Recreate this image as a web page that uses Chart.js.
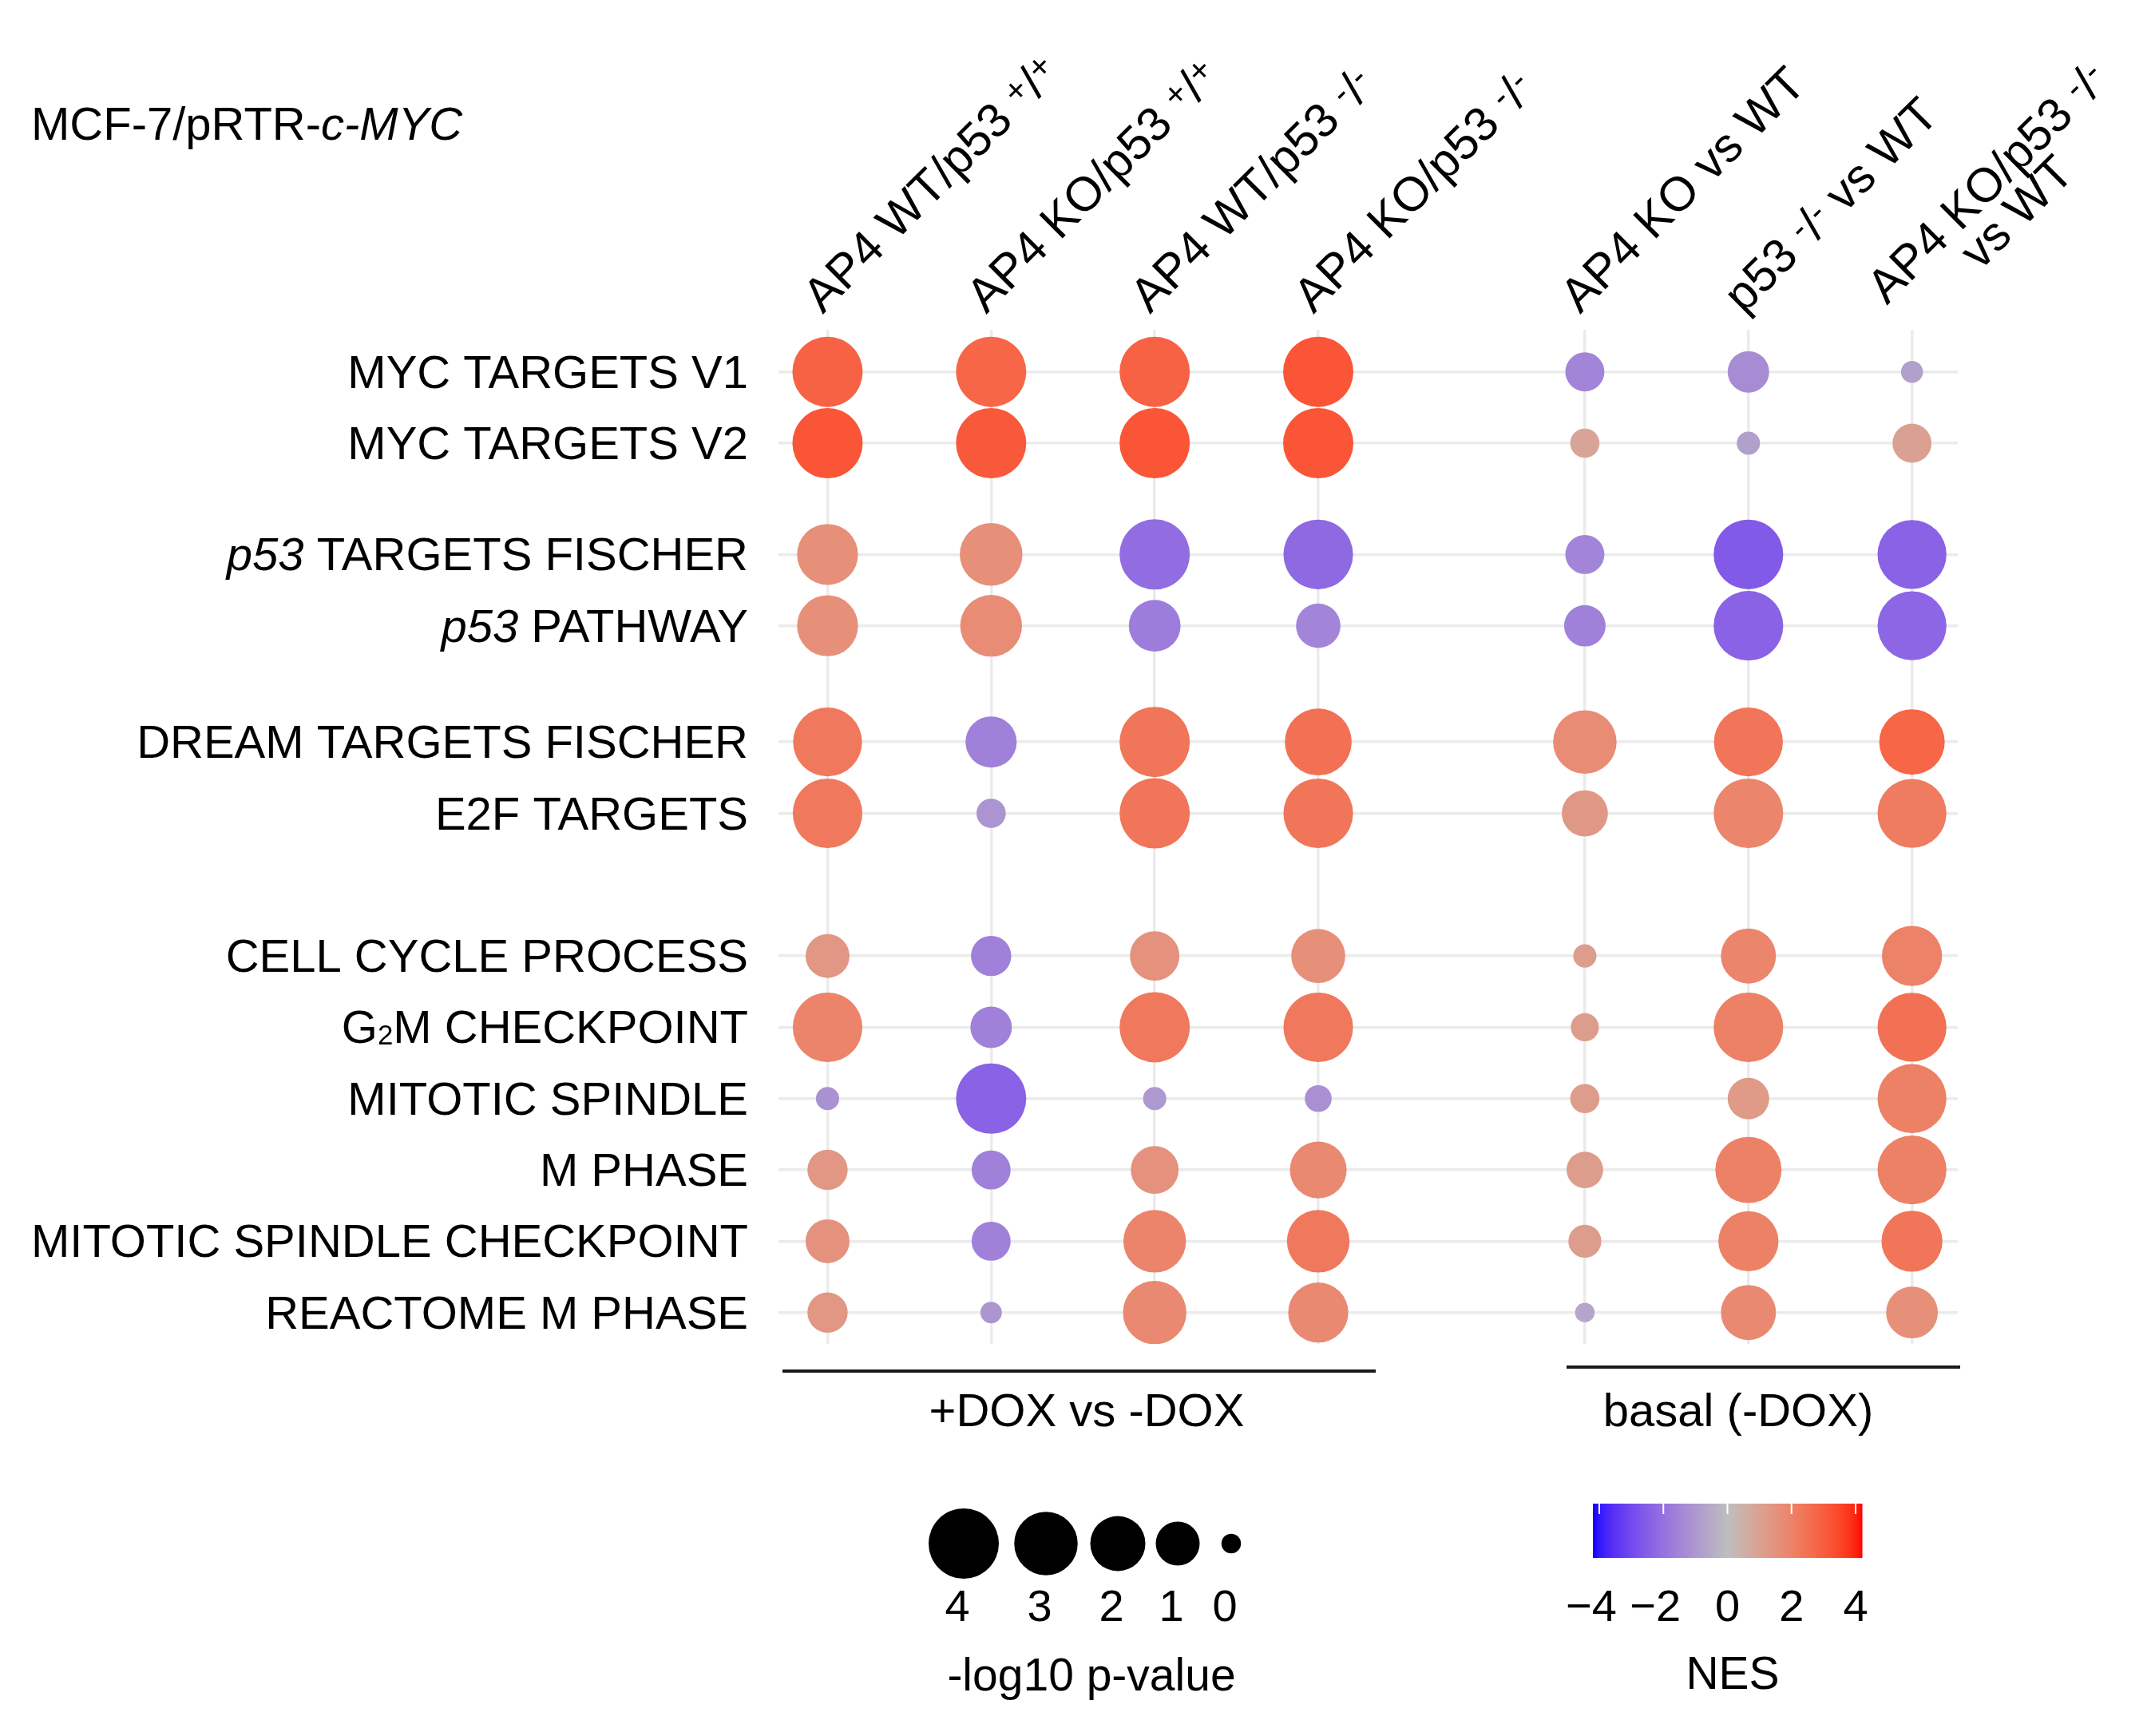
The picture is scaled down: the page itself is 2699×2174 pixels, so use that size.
<!DOCTYPE html>
<html>
<head>
<meta charset="utf-8">
<script src="https://cdn.jsdelivr.net/npm/chart.js@4.4.1/dist/chart.umd.min.js"></script>
<style>
  html, body { margin: 0; padding: 0; background: #fff; }
  canvas { display: block; }
</style>
</head>
<body>
<canvas id="dotChart" width="2699" height="2174"></canvas>
<script>
// gene sets (rows, top to bottom) and comparisons (columns, left to right)
const pathways = ['MYC TARGETS V1', 'MYC TARGETS V2', 'p53 TARGETS FISCHER', 'p53 PATHWAY',
  'DREAM TARGETS FISCHER', 'E2F TARGETS', 'CELL CYCLE PROCESS', 'G2M CHECKPOINT',
  'MITOTIC SPINDLE', 'M PHASE', 'MITOTIC SPINDLE CHECKPOINT', 'REACTOME M PHASE'];
const rowGroup = [0, 0, 1, 1, 2, 2, 3, 3, 3, 3, 3, 3];
const comparisons = ['AP4 WT/p53 +/+', 'AP4 KO/p53 +/+', 'AP4 WT/p53 -/-', 'AP4 KO/p53 -/-',
  'AP4 KO vs WT', 'p53 -/- vs WT', 'AP4 KO/p53 -/-\nvs WT'];
const colGroup = [0, 0, 0, 0, 1, 1, 1];
const groupLabels = ['+DOX vs -DOX', 'basal (-DOX)'];

// NES per row (one value per comparison)
const nes = [
  [2.9, 2.8, 2.9, 3.2, -1.5, -1.3, -0.8],
  [3.2, 3.1, 3.2, 3.2, 0.9, -0.8, 1.0],
  [1.6, 1.6, -2.1, -2.2, -1.5, -2.6, -2.4],
  [1.6, 1.7, -1.7, -1.5, -1.6, -2.4, -2.3],
  [2.3, -1.6, 2.4, 2.5, 1.7, 2.4, 2.8],
  [2.3, -1.1, 2.4, 2.4, 1.3, 1.9, 2.2],
  [1.35, -1.6, 1.5, 1.6, 1.15, 1.9, 2.0],
  [1.95, -1.6, 2.3, 2.3, 1.15, 2.05, 2.5],
  [-1.15, -2.4, -1.0, -1.2, 1.15, 1.25, 2.05],
  [1.35, -1.6, 1.5, 1.8, 1.15, 2.05, 2.05],
  [1.5, -1.6, 1.95, 2.3, 1.15, 2.05, 2.4],
  [1.35, -1.05, 1.8, 1.8, -0.65, 1.8, 1.6]
];

// -log10 p-value per row
const logP = [
  [4.0, 4.0, 4.0, 4.0, 0.8, 0.9, 0.1],
  [4.0, 4.0, 4.0, 4.0, 0.4, 0.15, 0.8],
  [2.7, 2.9, 4.0, 3.9, 0.8, 3.9, 3.8],
  [2.7, 2.8, 1.7, 1.05, 0.9, 3.9, 3.8],
  [3.8, 1.65, 4.0, 3.5, 3.0, 3.8, 3.3],
  [3.9, 0.4, 4.0, 3.9, 1.2, 3.9, 3.8],
  [1.0, 0.85, 1.5, 1.9, 0.15, 2.0, 2.6],
  [3.9, 0.9, 4.0, 3.9, 0.35, 3.9, 3.8],
  [0.15, 4.0, 0.15, 0.3, 0.4, 0.9, 3.8],
  [0.85, 0.8, 1.35, 2.2, 0.7, 3.4, 3.8],
  [1.0, 0.8, 2.9, 2.9, 0.55, 2.6, 2.7],
  [0.85, 0.08, 3.0, 2.6, 0.0, 2.0, 1.7]
];

// legends
const sizeBreaks = [4, 3, 2, 1, 0];
const nesTicks = [-4, -2, 0, 2, 4];

// ---- layout / style constants ----
const FONT = '"Liberation Sans", Arial, sans-serif';
const colGap = 0.63;
const groupShift = [0, 0.56, 1.19, 2.19];
const sizeDomain = [0, 1, 2, 3, 4];
const sizeDiam = [24.5, 55, 69, 79.5, 88];
const nesLimit = 4.2;

const colPos = comparisons.map((c, i) => i + colGap * colGroup[i]);
const rowPos = pathways.map((p, i) => i + groupShift[rowGroup[i]]);

function diameterFor(v) {
  if (v <= sizeDomain[0]) return sizeDiam[0];
  for (let i = 1; i < sizeDomain.length; i++) {
    if (v <= sizeDomain[i]) {
      const t = (v - sizeDomain[i - 1]) / (sizeDomain[i] - sizeDomain[i - 1]);
      return sizeDiam[i - 1] + t * (sizeDiam[i] - sizeDiam[i - 1]);
    }
  }
  return sizeDiam[sizeDiam.length - 1];
}

// Lab colour ramp blue - grey - red
function toLin(c) { c /= 255; return c <= 0.04045 ? c / 12.92 : Math.pow((c + 0.055) / 1.055, 2.4); }
function toSrgb(c) {
  c = c <= 0.0031308 ? 12.92 * c : 1.055 * Math.pow(c, 1 / 2.4) - 0.055;
  return Math.round(Math.max(0, Math.min(1, c)) * 255);
}
function rgbToLab(rgb) {
  const R = toLin(rgb[0]), G = toLin(rgb[1]), B = toLin(rgb[2]);
  const X = (0.4124 * R + 0.3576 * G + 0.1805 * B) / 0.95047;
  const Y = 0.2126 * R + 0.7152 * G + 0.0722 * B;
  const Z = (0.0193 * R + 0.1192 * G + 0.9505 * B) / 1.08883;
  const f = t => t > 0.008856 ? Math.cbrt(t) : 7.787 * t + 16 / 116;
  return [116 * f(Y) - 16, 500 * (f(X) - f(Y)), 200 * (f(Y) - f(Z))];
}
function labToRgb(lab) {
  const fy = (lab[0] + 16) / 116, fx = fy + lab[1] / 500, fz = fy - lab[2] / 200;
  const fi = t => t * t * t > 0.008856 ? t * t * t : (t - 16 / 116) / 7.787;
  const X = fi(fx) * 0.95047, Y = fi(fy), Z = fi(fz) * 1.08883;
  return [
    toSrgb(3.2406 * X - 1.5372 * Y - 0.4986 * Z),
    toSrgb(-0.9689 * X + 1.8758 * Y + 0.0415 * Z),
    toSrgb(0.0557 * X - 0.2040 * Y + 1.0570 * Z)
  ];
}
const labLow = rgbToLab([0, 0, 255]);
const labMid = rgbToLab([190, 190, 190]);
const labHigh = rgbToLab([255, 0, 0]);
function nesColor(v) {
  let t = Math.max(-1, Math.min(1, v / nesLimit));
  const end = t < 0 ? labLow : labHigh;
  t = Math.abs(t);
  const lab = labMid.map((m, k) => m + t * (end[k] - m));
  const c = labToRgb(lab);
  return `rgb(${c[0]},${c[1]},${c[2]})`;
}

// points
const points = [];
pathways.forEach((p, r) => {
  comparisons.forEach((c, k) => {
    points.push({ x: colPos[k], y: rowPos[r], r: diameterFor(logP[r][k]) / 2, nes: nes[r][k] });
  });
});

// ---- text helpers ----
function font(size, italic) { return (italic ? 'italic ' : '') + size + 'px ' + FONT; }

function runsWidth(ctx, runs, size) {
  let w = 0;
  runs.forEach(run => { ctx.font = font(size * (run.scale || 1), run.italic); w += ctx.measureText(run.t).width; });
  return w;
}

function drawRuns(ctx, runs, x, y, size, align) {
  const w = runsWidth(ctx, runs, size);
  let cx = align === 'right' ? x - w : align === 'center' ? x - w / 2 : x;
  ctx.textAlign = 'left';
  ctx.textBaseline = 'alphabetic';
  runs.forEach(run => {
    ctx.font = font(size * (run.scale || 1), run.italic);
    ctx.fillText(run.t, cx, y + (run.dy || 0) * size);
    cx += ctx.measureText(run.t).width;
  });
}

function rowRuns(label) {
  if (label.startsWith('p53 ')) return [{ t: 'p53', italic: true }, { t: label.slice(3) }];
  if (label.startsWith('G2M')) return [{ t: 'G' }, { t: '2', scale: 0.6, dy: 0.02 }, { t: label.slice(2) }];
  return [{ t: label }];
}

function headerRuns(line) {
  const runs = [];
  const re = /([+-])\/([+-])/g;
  let last = 0, m;
  while ((m = re.exec(line)) !== null) {
    if (m.index > last) runs.push({ t: line.slice(last, m.index) });
    runs.push({ t: m[1], scale: 0.72, dy: -0.22 });
    runs.push({ t: '/' });
    runs.push({ t: m[2], scale: 0.72, dy: -0.22 });
    last = m.index + m[0].length;
  }
  if (last < line.length) runs.push({ t: line.slice(last) });
  return runs;
}

const annotations = {
  id: 'annotations',
  afterDraw(chart) {
    const ctx = chart.ctx;
    const xs = chart.scales.x, ys = chart.scales.y;
    ctx.save();
    ctx.fillStyle = '#000';

    // title
    drawRuns(ctx, [{ t: 'MCF-7/pRTR-' }, { t: 'c-MYC', italic: true }], 39, 175, 58, 'left');

    // row labels
    pathways.forEach((p, i) => {
      drawRuns(ctx, rowRuns(p), 937, ys.getPixelForValue(rowPos[i]) + 20, 58, 'right');
    });

    // rotated column labels
    const hSize = 60, lineGap = 52;
    comparisons.forEach((c, i) => {
      const px = xs.getPixelForValue(colPos[i]) - 6;
      ctx.save();
      ctx.translate(px, 394);
      ctx.rotate(-Math.PI / 4);
      const lines = c.split('\n');
      if (lines.length === 1) {
        drawRuns(ctx, headerRuns(lines[0]), 0, 0, hSize, 'left');
      } else {
        const w1 = runsWidth(ctx, headerRuns(lines[0]), hSize);
        lines.forEach((ln, j) => {
          const v = (j - (lines.length - 1) / 2) * lineGap;
          drawRuns(ctx, headerRuns(ln), w1 / 2 - 10, v, hSize, 'center');
        });
      }
      ctx.restore();
    });

    // group brackets
    ctx.strokeStyle = '#1a1a1a';
    ctx.lineWidth = 4;
    const brackets = [[980, 1723, 1717], [1962, 2455, 1712]];
    brackets.forEach(b => {
      ctx.beginPath();
      ctx.moveTo(b[0], b[2]);
      ctx.lineTo(b[1], b[2]);
      ctx.stroke();
    });
    drawRuns(ctx, [{ t: groupLabels[0] }], 1361, 1786, 58, 'center');
    drawRuns(ctx, [{ t: groupLabels[1] }], 2177, 1786, 58, 'center');

    // size legend
    const keyX = [1207, 1310, 1400, 1475, 1542];
    sizeBreaks.forEach((v, i) => {
      ctx.fillStyle = '#000';
      ctx.beginPath();
      ctx.arc(keyX[i], 1933, diameterFor(v) / 2, 0, Math.PI * 2);
      ctx.fill();
      drawRuns(ctx, [{ t: String(v) }], keyX[i] - 8, 2030, 56, 'center');
    });
    drawRuns(ctx, [{ t: '-log10 p-value' }], 1367, 2117, 57, 'center');

    // colour bar
    const barL = 1995, barR = 2332, barT = 1883, barB = 1951;
    for (let x = barL; x < barR; x++) {
      const v = -nesLimit + (x - barL + 0.5) / (barR - barL) * 2 * nesLimit;
      ctx.fillStyle = nesColor(v);
      ctx.fillRect(x, barT, 1.5, barB - barT);
    }
    ctx.strokeStyle = '#fff';
    ctx.lineWidth = 2;
    nesTicks.forEach(v => {
      const x = barL + (v + nesLimit) / (2 * nesLimit) * (barR - barL);
      ctx.beginPath();
      ctx.moveTo(x, barT);
      ctx.lineTo(x, barT + 13);
      ctx.stroke();
      ctx.fillStyle = '#000';
      drawRuns(ctx, [{ t: v < 0 ? '\u2212' + Math.abs(v) : String(v) }], x - (v < 0 ? 10 : 0), 2030, 56, 'center');
    });
    drawRuns(ctx, [{ t: 'NES' }], 2170, 2115, 57, 'center');

    ctx.restore();
  }
};

new Chart(document.getElementById('dotChart'), {
  type: 'bubble',
  data: {
    datasets: [{
      data: points,
      backgroundColor: ctx => nesColor(ctx.raw ? ctx.raw.nes : 0),
      borderWidth: 0,
      hoverRadius: 0
    }]
  },
  options: {
    responsive: false,
    devicePixelRatio: 1,
    animation: false,
    events: [],
    layout: { padding: { left: 975, right: 247, top: 413, bottom: 491 } },
    plugins: { legend: { display: false }, tooltip: { enabled: false } },
    scales: {
      x: {
        type: 'linear',
        min: -0.3,
        max: 6.91,
        afterBuildTicks: scale => { scale.ticks = colPos.map(v => ({ value: v })); },
        ticks: { display: false },
        grid: { color: '#ebebeb', lineWidth: 3.5, drawTicks: false },
        border: { display: false }
      },
      y: {
        type: 'linear',
        reverse: true,
        min: -0.59,
        max: 13.63,
        afterBuildTicks: scale => { scale.ticks = rowPos.map(v => ({ value: v })); },
        ticks: { display: false },
        grid: { color: '#ebebeb', lineWidth: 3.5, drawTicks: false },
        border: { display: false }
      }
    }
  },
  plugins: [annotations]
});
</script>
</body>
</html>
